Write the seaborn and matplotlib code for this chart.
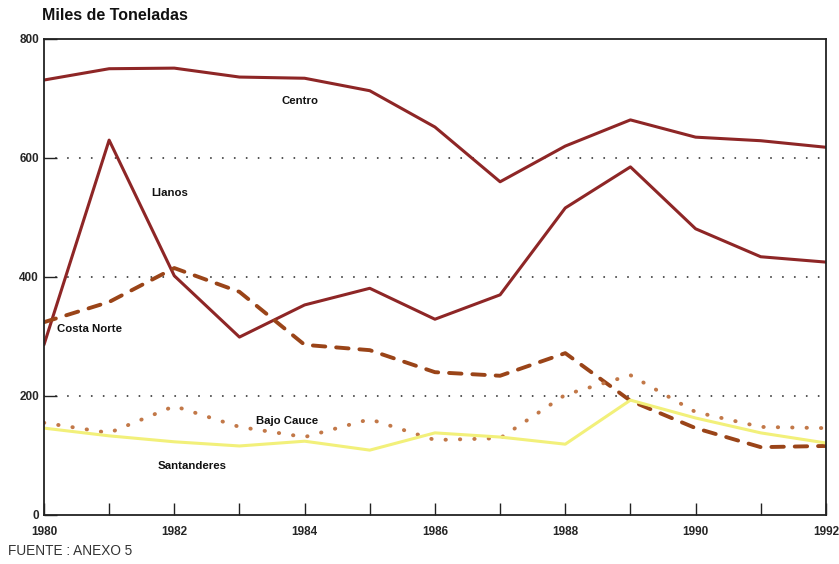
import matplotlib
matplotlib.use('Agg')
import matplotlib.pyplot as plt
import seaborn as sns
import pandas as pd

years = list(range(1980, 1993))
centro = [731, 750, 751, 736, 734, 713, 652, 560, 620, 664, 635, 629, 618]
llanos = [286, 630, 402, 299, 353, 381, 329, 370, 516, 585, 481, 434, 425]
costa_norte = [324, 358, 415, 375, 286, 277, 240, 234, 272, 192, 146, 114, 116]
bajo_cauce = [155, 138, 183, 148, 131, 161, 126, 129, 202, 235, 173, 148, 146]
santanderes = [146, 133, 123, 116, 124, 109, 138, 131, 119, 193, 163, 138, 121]

series = {
    'Centro': centro,
    'Llanos': llanos,
    'Costa Norte': costa_norte,
    'Bajo Cauce': bajo_cauce,
    'Santanderes': santanderes,
}
df = pd.DataFrame(series, index=years).reset_index(names='anio')
df = df.melt(id_vars='anio', var_name='region', value_name='miles')

colores = {
    'Centro': '#8e2626',
    'Llanos': '#8e2626',
    'Costa Norte': '#9a4418',
    'Bajo Cauce': '#c27848',
    'Santanderes': '#f2f07a',
}
estilos = {
    'Centro': '-',
    'Llanos': '-',
    'Costa Norte': (0, (3.2, 2.8)),
    'Bajo Cauce': (0, (0.1, 3.6)),
    'Santanderes': '-',
}

sns.set_style('white')
plt.rcParams['font.family'] = ['Liberation Sans', 'DejaVu Sans']

fig = plt.figure(figsize=(8.39, 5.64), dpi=100)
ax = fig.add_axes([0.0524, 0.0869, 0.932, 0.844])

# lineas guia punteadas
for g in [200, 400, 600]:
    ax.axhline(g, color='#333333', lw=1.3, ls=(0, (0.1, 6.5)),
               dash_capstyle='round', zorder=0)

for reg in series:
    sub = df[df['region'] == reg]
    lw = 2.8 if reg in ('Costa Norte', 'Bajo Cauce') else 2.2
    sns.lineplot(data=sub, x='anio', y='miles', ax=ax, color=colores[reg],
                 lw=lw, ls=estilos[reg], dash_capstyle='round', legend=False)

ax.set_xlim(1980, 1992)
ax.set_ylim(0, 800)
ax.set_xticks(years)
ax.set_xticklabels([str(y) if y % 2 == 0 else '' for y in years])
ax.set_yticks([0, 200, 400, 600, 800])
ax.tick_params(axis='both', direction='in', length=9, width=1, labelsize=8.5,
               color='#222222', bottom=True, left=True)
ax.tick_params(axis='x', pad=8)
for lab in ax.get_xticklabels() + ax.get_yticklabels():
    lab.set_fontweight('bold')
ax.set_xlabel('')
ax.set_ylabel('')
for s in ax.spines.values():
    s.set_color('#222222')
    s.set_linewidth(1.3)

etiquetas = {
    'Centro': (1983.65, 696),
    'Llanos': (1981.65, 541),
    'Costa Norte': (1980.2, 313),
    'Bajo Cauce': (1983.25, 158),
    'Santanderes': (1981.75, 82),
}
for reg, (x, y) in etiquetas.items():
    ax.text(x, y, reg, fontsize=8.2, fontweight='bold', ha='left',
            va='center', color='#111111')

fig.text(42 / 839, 1 - 15 / 564, 'Miles de Toneladas', fontsize=11.5,
         fontweight='bold', ha='left', va='center', color='#111111')
fig.text(8 / 839, 1 - 551 / 564, 'FUENTE : ANEXO 5', fontsize=9.8,
         ha='left', va='center', color='#333333')

fig.savefig('out.png', dpi=100)
